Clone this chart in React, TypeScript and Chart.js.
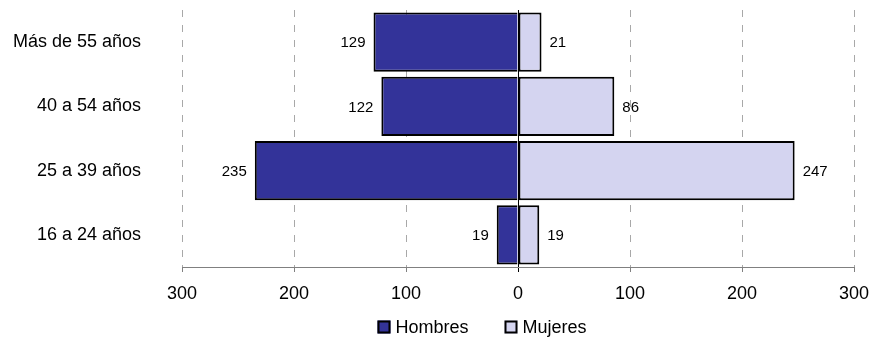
import React, { useEffect, useRef } from "react";
import { Chart, registerables } from "chart.js";

Chart.register(...registerables);

const categories = ["Más de 55 años", "40 a 54 años", "25 a 39 años", "16 a 24 años"];
const hombres = [129, 122, 235, 19];
const mujeres = [21, 86, 247, 19];
const seriesNames = ["Hombres", "Mujeres"];
const seriesColors = ["#333399", "#D4D4F0"];
const xMin = -300;
const xMax = 300;
const xStep = 100;

const FONT = '"Liberation Sans", Arial, Helvetica, sans-serif';

export default function App() {
  const ref = useRef<HTMLCanvasElement>(null);

  useEffect(() => {
    const canvas = ref.current;
    if (!canvas) return;

    const zeroLine = {
      id: "zeroLine",
      beforeDatasetsDraw(chart: any) {
        const { ctx, chartArea, scales } = chart;
        const x = Math.round(scales.x.getPixelForValue(0)) + 0.5;
        ctx.save();
        ctx.strokeStyle = "#000";
        ctx.lineWidth = 1;
        ctx.beginPath();
        ctx.moveTo(x, chartArea.top);
        ctx.lineTo(x, chartArea.bottom);
        ctx.stroke();
        ctx.restore();
      },
    };

    const dataLabels = {
      id: "dataLabels",
      afterDatasetsDraw(chart: any) {
        const ctx = chart.ctx;
        ctx.save();
        ctx.font = `15px ${FONT}`;
        ctx.fillStyle = "#000";
        ctx.textBaseline = "middle";
        chart.data.datasets.forEach((ds: any, di: number) => {
          const meta = chart.getDatasetMeta(di);
          meta.data.forEach((el: any, i: number) => {
            const v = ds.data[i] as number;
            const neg = v < 0;
            ctx.textAlign = neg ? "right" : "left";
            ctx.fillText(String(Math.abs(v)), el.x + (neg ? -8 : 8), el.y + 1);
          });
        });
        ctx.restore();
      },
    };

    const customLegend = {
      id: "customLegend",
      afterDraw(chart: any) {
        const ctx = chart.ctx;
        ctx.save();
        ctx.font = `18px ${FONT}`;
        const box = 13;
        const gapText = 5;
        const gapItem = 36;
        const items = chart.data.datasets.map((ds: any) => ({
          label: ds.label as string,
          color: ds.backgroundColor as string,
          w: ctx.measureText(ds.label).width,
        }));
        const total =
          items.reduce((s: number, it: any) => s + box + gapText + it.w, 0) +
          gapItem * (items.length - 1);
        let x = 482 - total / 2;
        const cy = 327;
        items.forEach((it: any) => {
          ctx.fillStyle = it.color;
          ctx.fillRect(x, cy - box / 2, box, box);
          ctx.lineWidth = 2;
          ctx.strokeStyle = "#000";
          ctx.strokeRect(x + 1, cy - box / 2 + 1, box - 2, box - 2);
          ctx.fillStyle = "#000";
          ctx.textAlign = "left";
          ctx.textBaseline = "middle";
          ctx.fillText(it.label, x + box + gapText, cy + 1);
          x += box + gapText + it.w + gapItem;
        });
        ctx.restore();
      },
    };

    const chart = new Chart(canvas, {
      type: "bar",
      data: {
        labels: categories,
        datasets: [
          {
            label: seriesNames[0],
            data: hombres.map((v) => -v),
            backgroundColor: seriesColors[0],
            borderColor: "#000",
            borderWidth: 2,
            borderSkipped: "start",
            barPercentage: 0.92,
            categoryPercentage: 1,
          },
          {
            label: seriesNames[1],
            data: mujeres,
            backgroundColor: seriesColors[1],
            borderColor: "#000",
            borderWidth: 2,
            borderSkipped: false,
            barPercentage: 0.92,
            categoryPercentage: 1,
          },
        ],
      },
      options: {
        indexAxis: "y",
        responsive: false,
        animation: false,
        events: [],
        layout: { padding: { top: 10, right: 18, bottom: 33, left: 0 } },
        plugins: {
          legend: { display: false },
          tooltip: { enabled: false },
        },
        scales: {
          x: {
            type: "linear",
            stacked: true,
            min: xMin,
            max: xMax,
            afterFit: (scale: any) => {
              scale.height = 40;
              scale.paddingLeft = 0;
              scale.paddingRight = 0;
            },
            ticks: {
              stepSize: xStep,
              padding: 11,
              color: "#000",
              font: { family: FONT, size: 18 },
              callback: (v: any) => String(Math.abs(Number(v))),
            },
            grid: {
              color: (c: any) => (c.tick && c.tick.value === 0 ? "rgba(0,0,0,0)" : "#A8A8A8"),
              lineWidth: 1,
              tickLength: 5,
              tickColor: (c: any) => (c.tick && c.tick.value === 0 ? "#000" : "#808080"),
              tickBorderDash: [],
            },
            border: { display: true, color: "#808080", width: 1, dash: [7, 8] },
          },
          y: {
            type: "category",
            stacked: true,
            afterFit: (scale: any) => {
              scale.width = 182;
              scale.paddingTop = 0;
              scale.paddingBottom = 0;
            },
            ticks: {
              padding: 41,
              color: "#000",
              font: { family: FONT, size: 18 },
            },
            grid: { display: false, drawTicks: false },
            border: { display: false },
          },
        },
      },
      plugins: [zeroLine, dataLabels, customLegend],
    });

    return () => chart.destroy();
  }, []);

  return (
    <div style={{ position: "absolute", left: 0, top: 0, width: 872, height: 340 }}>
      <canvas ref={ref} width={872} height={340} style={{ display: "block" }} />
    </div>
  );
}
